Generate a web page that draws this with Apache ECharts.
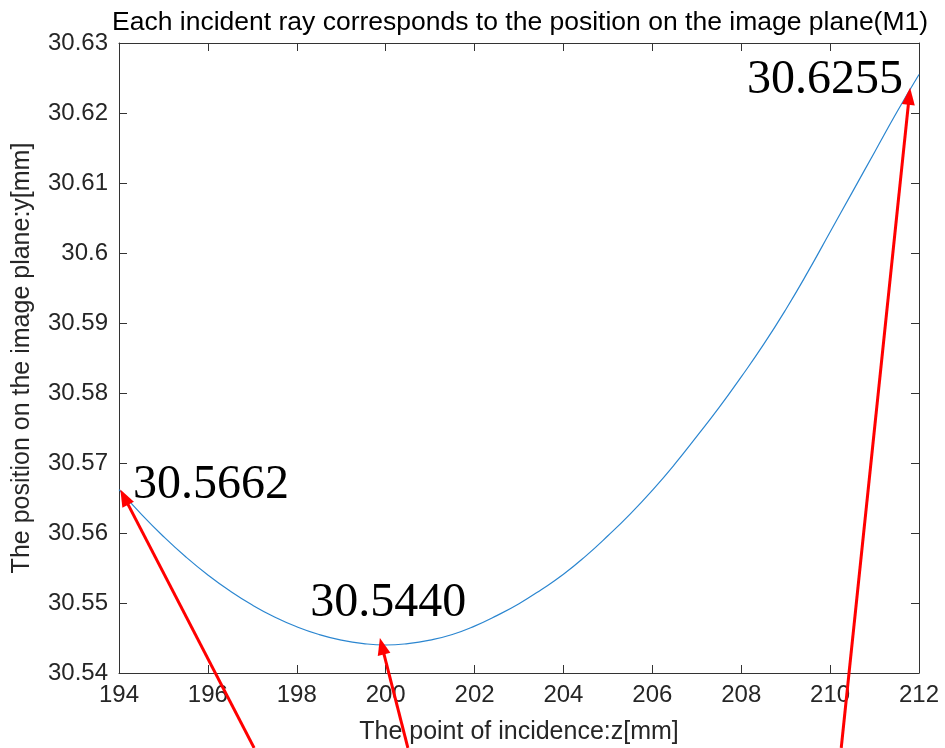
<!DOCTYPE html>
<html><head><meta charset="utf-8">
<script src="https://cdn.jsdelivr.net/npm/echarts@6/dist/echarts.min.js"></script>
<style>html,body{margin:0;padding:0;background:#fff}#c{width:945px;height:748px}</style>
</head><body><div id="c"></div>
<script>
// ---- data ----
const zValues = [194.0,194.5,195.0,195.5,196.0,196.5,197.0,197.5,198.0,198.5,199.0,199.5,200.0,200.5,201.0,201.5,202.0,202.5,203.0,203.5,204.0,204.5,205.0,205.5,206.0,206.5,207.0,207.5,208.0,208.5,209.0,209.5,210.0,210.5,211.0,211.5,212.0];
const yValues = [30.5662,30.5627,30.5595,30.5566,30.5540,30.5517,30.5497,30.5480,30.5466,30.5455,30.5447,30.5442,30.5440,30.5442,30.5447,30.5455,30.5467,30.5482,30.5499,30.5519,30.5541,30.5567,30.5596,30.5627,30.5661,30.5698,30.5738,30.5779,30.5823,30.5869,30.5919,30.5973,30.6030,30.6087,30.6144,30.6201,30.6255];
const titleText = 'Each incident ray corresponds to the position on the image plane(M1)';
const xName = 'The point of incidence:z[mm]';
const yName = 'The position on the image plane:y[mm]';
const annotLabels = ['30.5662','30.5440','30.6255'];
const annotPointZ = [194.0, 199.9, 212.0];
const annotPointY = [30.5662, 30.5440, 30.6255];
const arrowTipZ = [194.03, 199.87, 211.80];
const arrowTipY = [30.5662, 30.5450, 30.6236];
const arrowTailZ = [197.04, 200.50, 210.25];
const arrowTailY = [30.5293, 30.5293, 30.5293];

// ---- chart ----
const chart = echarts.init(document.getElementById('c'), null, {renderer:'canvas'});
const axisColor = '#333333';
const font = 'Liberation Sans, Arial, sans-serif';
const fmtY = v => String(parseFloat(Number(v).toFixed(2)));
const baseX = {type:'value', min:194, max:212, interval:2,
  axisLine:{show:true, onZero:false, lineStyle:{color:axisColor, width:1}},
  axisTick:{show:true, inside:true, length:8, lineStyle:{color:axisColor}},
  splitLine:{show:false}};
const baseY = {type:'value', min:30.54, max:30.63, interval:0.01,
  axisLine:{show:true, onZero:false, lineStyle:{color:axisColor, width:1}},
  axisTick:{show:true, inside:true, length:8, lineStyle:{color:axisColor}},
  splitLine:{show:false}};

chart.setOption({
  animation:false,
  backgroundColor:'#fff',
  title:{text:titleText, left:107, top:4,
    textStyle:{fontFamily:font, fontSize:26.5, fontWeight:'normal', color:'#000'}},
  grid:{left:119, right:26, top:43, bottom:75, containLabel:false, outerBoundsMode:'none'},
  xAxis:[
    Object.assign({}, baseX, {position:'bottom', name:xName, nameLocation:'middle', nameGap:47,
      nameTextStyle:{fontFamily:font, fontSize:25, color:'#262626'},
      axisLabel:{fontFamily:font, fontSize:24, color:'#262626', margin:10}}),
    Object.assign({}, baseX, {position:'top', axisLabel:{show:false}})
  ],
  yAxis:[
    Object.assign({}, baseY, {position:'left', name:yName, nameLocation:'middle', nameGap:84,
      nameTextStyle:{fontFamily:font, fontSize:25, color:'#262626'},
      axisLabel:{fontFamily:font, fontSize:24, color:'#262626', margin:11, formatter:fmtY}}),
    Object.assign({}, baseY, {position:'right', axisLabel:{show:false}})
  ],
  series:[{
    type:'line', xAxisIndex:0, yAxisIndex:0,
    data: zValues.map((z,i)=>[z, yValues[i]]),
    showSymbol:false, smooth:true,
    lineStyle:{color:'#2b86d0', width:1.2}
  }]
});

// ---- annotations (arrows + labels), placed via data coordinates ----
const labelOffsets = [[14,-4],[-71,-42],[-172,6]];
const graphics = [];
for (let i = 0; i < annotLabels.length; i++) {
  const tip = chart.convertToPixel({xAxisIndex:0, yAxisIndex:0}, [arrowTipZ[i], arrowTipY[i]]);
  const tail = chart.convertToPixel({xAxisIndex:0, yAxisIndex:0}, [arrowTailZ[i], arrowTailY[i]]);
  const pt = chart.convertToPixel({xAxisIndex:0, yAxisIndex:0}, [annotPointZ[i], annotPointY[i]]);
  const dx = tip[0]-tail[0], dy = tip[1]-tail[1];
  const len = Math.hypot(dx, dy);
  const ux = dx/len, uy = dy/len, nx = -uy, ny = ux;
  const L = 17, W = 6.5;
  const bx = tip[0]-ux*L, by = tip[1]-uy*L;
  graphics.push({type:'line', z:10, shape:{x1:tail[0], y1:tail[1], x2:bx+ux*2, y2:by+uy*2},
    style:{stroke:'#ff0000', lineWidth:3}});
  graphics.push({type:'polygon', z:10, shape:{points:[[tip[0],tip[1]],[bx+nx*W,by+ny*W],[bx-nx*W,by-ny*W]]},
    style:{fill:'#ff0000'}});
  graphics.push({type:'text', z:11, x:pt[0]+labelOffsets[i][0], y:pt[1]+labelOffsets[i][1],
    style:{text:annotLabels[i], font:'48px "Liberation Serif", "Times New Roman", serif', fill:'#000',
      textAlign:'left', textVerticalAlign:'middle'}});
}
chart.setOption({graphic:graphics});
</script>
</body></html>
